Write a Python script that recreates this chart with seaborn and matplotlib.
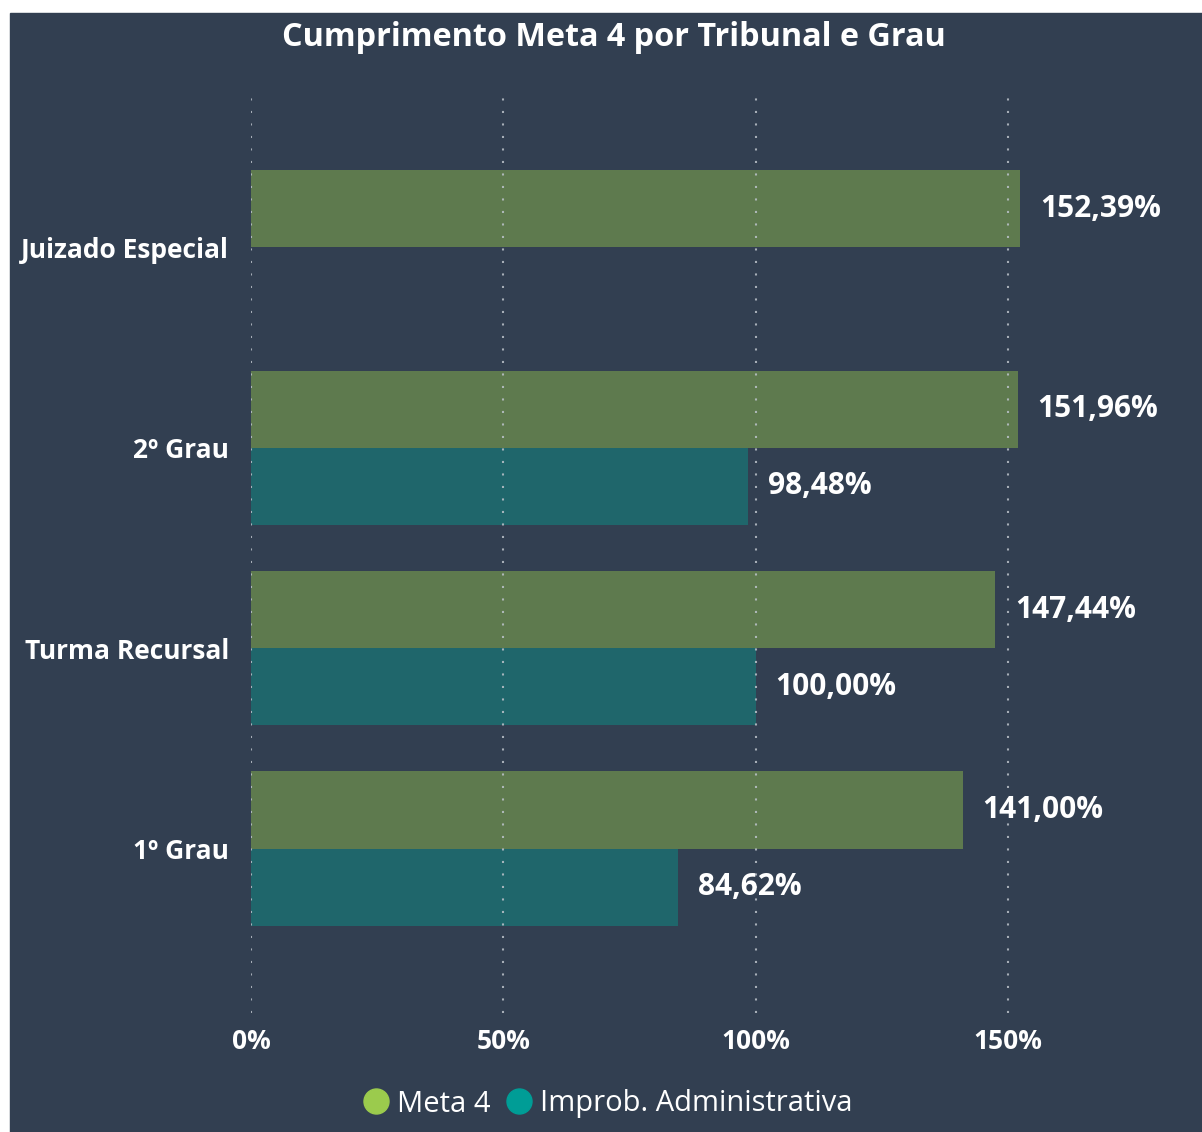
import pandas as pd
import numpy as np
import matplotlib
matplotlib.use("Agg")
import matplotlib.pyplot as plt
import seaborn as sns
from matplotlib.lines import Line2D
from matplotlib.patches import Rectangle

# ---------------------------------------------------
# Data
# ---------------------------------------------------
tribunais = ["Juizado Especial", "2º Grau", "Turma Recursal", "1º Grau"]
series = ["Meta 4", "Improb. Administrativa"]
meta4 = [152.39, 151.96, 147.44, 141.00]
improb = [np.nan, 98.48, 100.00, 84.62]
ticks = [0, 50, 100, 150]

df = pd.DataFrame({
    "Tribunal": tribunais * 2,
    "Serie": [series[0]] * 4 + [series[1]] * 4,
    "Valor": meta4 + improb,
}).dropna()

# ---------------------------------------------------
# Style
# ---------------------------------------------------
bg = "#323F51"
bar_colors = ["#5E7A4E", "#1F666B"]
dot_colors = ["#9BCB4D", "#009D96"]

sns.set_theme(style="dark")
plt.rcParams["font.family"] = ["Open Sans", "DejaVu Sans"]

fig = plt.figure(figsize=(12.02, 11.32), dpi=100, facecolor="white")
fig.patches.append(Rectangle((10 / 1202, 0), 1, 1 - 13 / 1132,
                             transform=fig.transFigure, color=bg, zorder=-10))

ax = fig.add_axes([251 / 1202, 1 - 1013 / 1132, (1185 - 251) / 1202, (1013 - 93) / 1132])
ax.set_facecolor(bg)

sns.barplot(data=df, y="Tribunal", x="Valor", hue="Serie", order=tribunais,
            hue_order=series, palette=bar_colors, width=0.77, saturation=1,
            orient="h", ax=ax, legend=False, linewidth=0)

# value labels, Portuguese format
for cont in ax.containers:
    labels = [f"{v:.2f}%".replace(".", ",") for v in cont.datavalues]
    ax.bar_label(cont, labels=labels, padding=14, color="white",
                 fontsize=21.5, fontweight="bold")

ax.set_xlim(0, 185)
ax.set_ylim(3.82, -0.77)
ax.set_xticks(ticks)
ax.set_xticklabels([f"{t}%" for t in ticks])
ax.tick_params(axis="x", length=0, pad=11, colors="white", labelsize=19)
ax.tick_params(axis="y", length=0, pad=16, colors="white", labelsize=19)
for lab in ax.get_xticklabels() + ax.get_yticklabels():
    lab.set_fontweight("bold")
ax.set_xlabel("")
ax.set_ylabel("")

ax.set_axisbelow(False)
ax.grid(axis="x", color="#BCC2CA", linestyle=(0, (1, 5)), linewidth=1.5, alpha=0.85)
ax.grid(axis="y", visible=False)
for s in ax.spines.values():
    s.set_visible(False)

fig.text(0.511, 1 - 38 / 1132, "Cumprimento Meta 4 por Tribunal e Grau",
         ha="center", va="center", color="white", fontsize=23.3, fontweight="bold")

handles = [Line2D([], [], marker="o", linestyle="", markersize=18,
                  markerfacecolor=c, markeredgecolor=c) for c in dot_colors]
fig.legend(handles, series, loc="center", bbox_to_anchor=(0.505, 1 - 1104 / 1132),
           ncol=2, frameon=False, fontsize=21, labelcolor="white",
           handletextpad=0.2, columnspacing=0.5, handlelength=1.0)

plt.savefig("out.png", dpi=100, facecolor=fig.get_facecolor())
